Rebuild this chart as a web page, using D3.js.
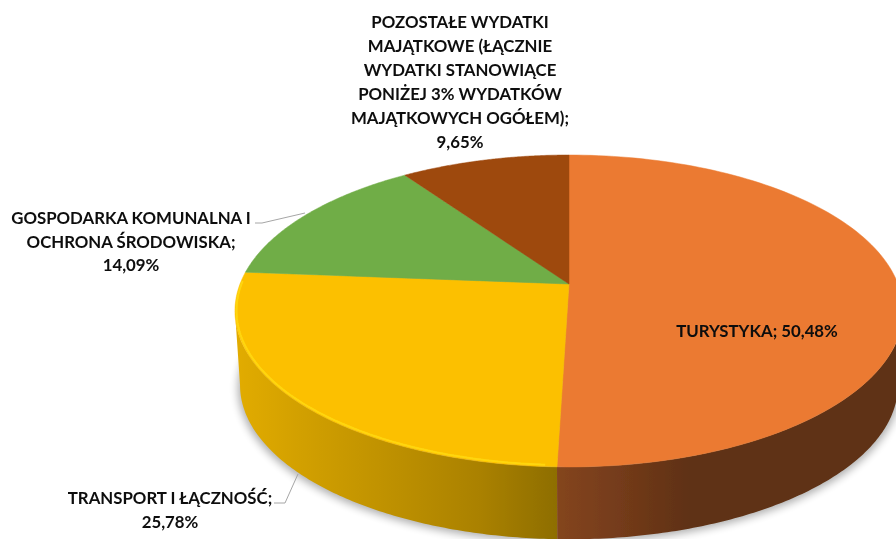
<!DOCTYPE html>
<html><head><meta charset="utf-8">
<script src="https://cdn.jsdelivr.net/npm/d3@7"></script>
<style>html,body{margin:0;background:#fff}svg{display:block}text{font-family:Lato,sans-serif;font-weight:700;fill:#0c0c0c;font-size:16.8px;text-anchor:middle}</style>
</head><body><svg id="c" width="896" height="539"></svg>
<script>
const categories=["TURYSTYKA","TRANSPORT I ŁĄCZNOŚĆ","GOSPODARKA KOMUNALNA I OCHRONA ŚRODOWISKA","POZOSTAŁE WYDATKI MAJĄTKOWE (ŁĄCZNIE WYDATKI STANOWIĄCE PONIŻEJ 3% WYDATKÓW MAJĄTKOWYCH OGÓŁEM)"];
const values=[50.48,25.78,14.09,9.65];
const valueLabels=["50,48%","25,78%","14,09%","9,65%"];
const topColors=["#EB7A31","#FCC000","#70AD47","#9E480E"];
const labelLines=[["TURYSTYKA; 50,48%"],["TRANSPORT I ŁĄCZNOŚĆ;","25,78%"],["GOSPODARKA KOMUNALNA I","OCHRONA ŚRODOWISKA;","14,09%"],["POZOSTAŁE WYDATKI","MAJĄTKOWE (ŁĄCZNIE","WYDATKI STANOWIĄCE","PONIŻEJ 3% WYDATKÓW","MAJĄTKOWYCH OGÓŁEM);","9,65%"]];
const labelPos=[[757,337],[170,504],[131,224],[460,28]];
const lineH=[0,24,23.6,23.9];

const svg=d3.select("#c"),defs=svg.append("defs");
const k=0.173;
const proj=(a,o)=>{const u=Math.sin(a),v=-Math.cos(a),w=1-k*v;return [o.cx+o.a*u/w,o.cy+o.b*v/w];};
const top_={cx:569,cy:284,a:329,b:151.3};
const bot={cx:569,cy:358.5,a:324,b:149.5};
const pie=d3.pie().sort(null).value(d=>d)(values);
const arcPts=(a0,a1,o)=>d3.range(0,121).map(i=>proj(a0+(a1-a0)*i/120,o));
const line=d3.line();
const tangent=Math.acos(-k); // angle from the back of the pie where the outline is vertical

const filt=(id,sd)=>defs.append("filter").attr("id",id).attr("x","-10%").attr("y","-10%").attr("width","120%").attr("height","130%")
  .append("feGaussianBlur").attr("stdDeviation",sd);
filt("sh",4.5);filt("soft",0.45);filt("rim",0.7);filt("txt",0.3);
const grad=(id,stops)=>{const g=defs.append("linearGradient").attr("id",id).attr("gradientUnits","userSpaceOnUse").attr("x1",235).attr("x2",896).attr("y1",0).attr("y2",0);
  stops.forEach(s=>g.append("stop").attr("offset",(s[0]-235)/661).attr("stop-color",s[1]));};
grad("gy",[[235,"#E2AC00"],[300,"#D2A000"],[400,"#BC8F00"],[480,"#AA8100"],[557,"#8E6E00"]]);
grad("go",[[557,"#84451F"],[620,"#743B1A"],[690,"#5F3113"],[896,"#5E3012"]]);

// ground shadow
svg.append("path").attr("d",line(arcPts(0,2*Math.PI,{...bot,cy:bot.cy+3,a:bot.a+2}))+"Z").attr("fill","#000").attr("opacity",.32).attr("filter","url(#sh)");

const gPie=svg.append("g").attr("filter","url(#soft)");
// side wall, drawn between the two vertical tangents of the outline
const wall=(a0,a1,fill)=>gPie.append("path").attr("d",line(arcPts(a0,a1,top_).concat(arcPts(a0,a1,bot).reverse()))+"Z").attr("fill",fill);
wall(tangent,pie[0].endAngle,"url(#go)");
wall(pie[1].startAngle,2*Math.PI-tangent,"url(#gy)");
// top faces
gPie.selectAll("path.top").data(pie).join("path").attr("class","top")
  .attr("d",d=>line([[top_.cx,top_.cy],...arcPts(d.startAngle,d.endAngle,top_)])+"Z")
  .attr("fill",(d,i)=>topColors[i]).attr("stroke",(d,i)=>topColors[i]).attr("stroke-width",.5);
// bevel highlight on the yellow rim
const inner={...top_,a:top_.a-1.5,b:top_.b-1.5};
gPie.append("path").attr("d",line(arcPts(pie[1].startAngle+.03,pie[1].endAngle-.06,inner))).attr("fill","none")
  .attr("stroke","#FFD60F").attr("stroke-width",2).attr("filter","url(#rim)");

// leader lines
const leaders=[[[274,503],[285,503],[298,474]],[[255,223],[262,223],[305,213]]];
leaders.forEach(l=>svg.append("path").attr("d",line(l)).attr("fill","none").attr("stroke","#A6A6A6").attr("stroke-width",1));

// labels
const gText=svg.append("g").attr("filter","url(#txt)");
labelLines.forEach((ls,i)=>{const t=gText.append("text").attr("x",labelPos[i][0]).attr("y",labelPos[i][1]);
  ls.forEach((s,j)=>t.append("tspan").attr("x",labelPos[i][0]).attr("y",labelPos[i][1]+j*lineH[i]).text(s));});
</script></body></html>
